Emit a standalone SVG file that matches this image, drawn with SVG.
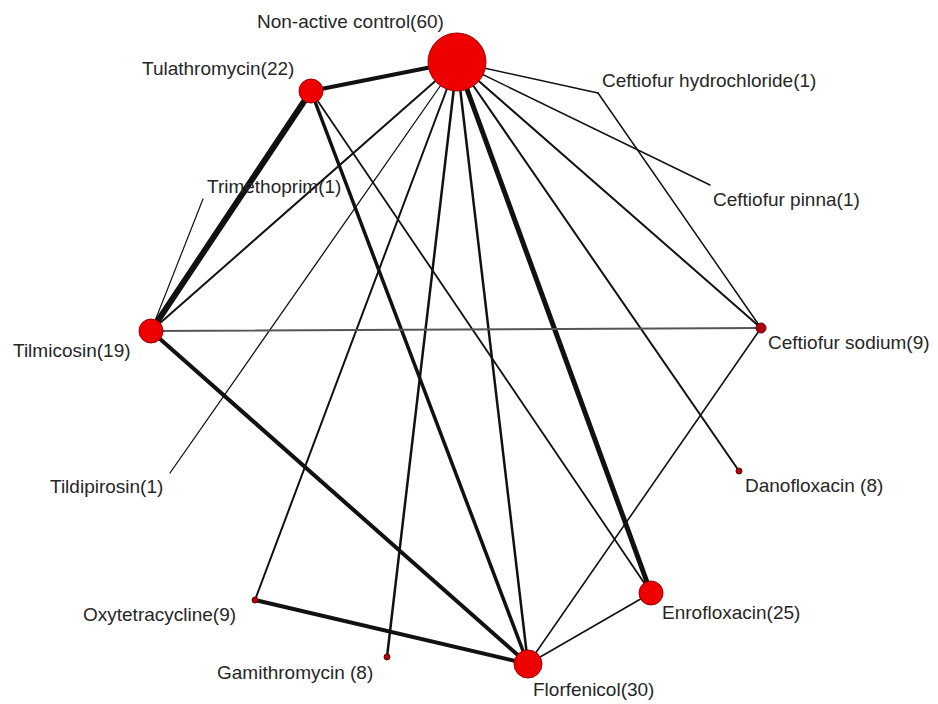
<svg xmlns="http://www.w3.org/2000/svg" width="938" height="704" viewBox="0 0 938 704">
<style>
.e{stroke:#111;fill:none;stroke-linecap:round}
.n{fill:#ee0000;stroke:#a00000;stroke-width:1}
.s{fill:#b00010;stroke:#600;stroke-width:1}
.t{font-family:"Liberation Sans",Arial,sans-serif;font-size:19px;fill:#262626}
</style>
<rect width="938" height="704" fill="#fff"/>
<g id="edges">
<line class="e" x1="311" y1="91" x2="151" y2="331" stroke-width="6"/>
<line class="e" x1="311" y1="91" x2="457" y2="62" stroke-width="4"/>
<line class="e" x1="311" y1="91" x2="528" y2="664" stroke-width="3.5"/>
<line class="e" x1="311" y1="91" x2="651" y2="593" stroke-width="1.8"/>
<line class="e" x1="457" y1="62" x2="651" y2="593" stroke-width="5"/>
<line class="e" x1="457" y1="62" x2="528" y2="664" stroke-width="2.5"/>
<line class="e" x1="457" y1="62" x2="387" y2="657" stroke-width="2.5"/>
<line class="e" x1="457" y1="62" x2="255" y2="600" stroke-width="2"/>
<line class="e" x1="457" y1="62" x2="170" y2="473" stroke-width="1.3"/>
<line class="e" x1="457" y1="62" x2="151" y2="331" stroke-width="2"/>
<line class="e" x1="457" y1="62" x2="739" y2="471" stroke-width="2"/>
<line class="e" x1="457" y1="62" x2="761" y2="328" stroke-width="2"/>
<line class="e" x1="457" y1="62" x2="710" y2="185" stroke-width="1.5"/>
<line class="e" x1="457" y1="62" x2="598" y2="93" stroke-width="1.5"/>
<line class="e" x1="598" y1="93" x2="761" y2="328" stroke-width="1.5"/>
<line class="e" x1="151" y1="331" x2="203" y2="199" stroke-width="1.2"/>
<line class="e" x1="151" y1="331" x2="761" y2="328" stroke-width="2.2" style="stroke:#555"/>
<line class="e" x1="151" y1="331" x2="528" y2="664" stroke-width="4"/>
<line class="e" x1="255" y1="600" x2="528" y2="664" stroke-width="4"/>
<line class="e" x1="761" y1="328" x2="528" y2="664" stroke-width="1.6"/>
<line class="e" x1="651" y1="593" x2="528" y2="664" stroke-width="1.6"/>
</g>
<g id="nonactive"><circle class="n" cx="457" cy="62" r="29"/><text class="t" x="257" y="28">Non-active control(60)</text></g>
<g id="tulathromycin"><circle class="n" cx="311" cy="91" r="12"/><text class="t" x="142" y="75">Tulathromycin(22)</text></g>
<g id="trimethoprim"><text class="t" x="207" y="193">Trimethoprim(1)</text></g>
<g id="tilmicosin"><circle class="n" cx="151" cy="331" r="12"/><text class="t" x="13" y="357">Tilmicosin(19)</text></g>
<g id="tildipirosin"><text class="t" x="50" y="493">Tildipirosin(1)</text></g>
<g id="oxytetracycline"><circle class="s" cx="255" cy="600" r="3"/><text class="t" x="83" y="621">Oxytetracycline(9)</text></g>
<g id="gamithromycin"><circle class="s" cx="387" cy="657" r="3"/><text class="t" x="217" y="679">Gamithromycin (8)</text></g>
<g id="florfenicol"><circle class="n" cx="528" cy="664" r="14"/><text class="t" x="533" y="696">Florfenicol(30)</text></g>
<g id="enrofloxacin"><circle class="n" cx="651" cy="593" r="12"/><text class="t" x="662" y="619">Enrofloxacin(25)</text></g>
<g id="danofloxacin"><circle class="s" cx="739" cy="471" r="3"/><text class="t" x="745" y="492">Danofloxacin (8)</text></g>
<g id="ceftiofur-sodium"><circle class="s" cx="761" cy="328" r="5"/><text class="t" x="768" y="349">Ceftiofur sodium(9)</text></g>
<g id="ceftiofur-pinna"><text class="t" x="713" y="206">Ceftiofur pinna(1)</text></g>
<g id="ceftiofur-hydrochloride"><text class="t" x="602" y="87">Ceftiofur hydrochloride(1)</text></g>
</svg>
